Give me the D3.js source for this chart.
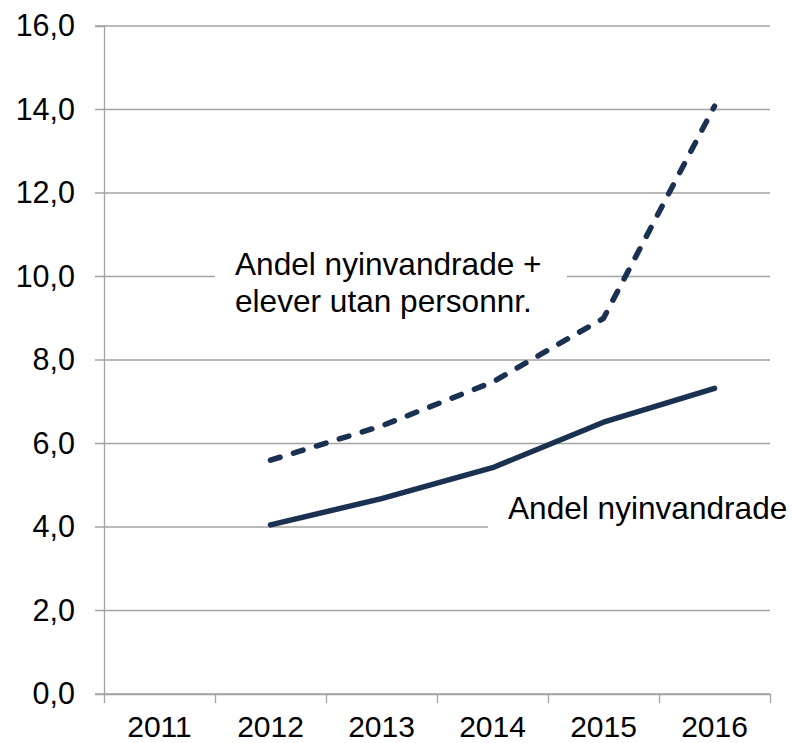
<!DOCTYPE html>
<html>
<head>
<meta charset="utf-8">
<script src="https://cdn.jsdelivr.net/npm/d3@7"></script>
<style>
  body { margin: 0; background: #fff; }
  svg { display: block; font-family: "Liberation Sans", Arial, sans-serif; }
</style>
</head>
<body>
<svg id="chart"></svg>
<script>
// chart data
const years = ["2011", "2012", "2013", "2014", "2015", "2016"];
const nyinvandrade = [null, 4.05, 4.68, 5.42, 6.51, 7.32];
const medUtanPersonnr = [null, 5.6, 6.42, 7.47, 9.0, 14.08];
const yTicks = [0, 2, 4, 6, 8, 10, 12, 14, 16];
const labelDashed = ["Andel nyinvandrade +", "elever utan personnr."];
const labelSolid = "Andel nyinvandrade";

const width = 793, height = 743;
const margin = { top: 26, right: 23, bottom: 49, left: 104 };
const navy = "#1a3152";
const gridColor = "#a3a3a3";

const svg = d3.select("#chart").attr("width", width).attr("height", height);

const x = d3.scaleBand().domain(years).range([margin.left, width - margin.right]).paddingInner(0).paddingOuter(0);
const y = d3.scaleLinear().domain([0, 16]).range([height - margin.bottom, margin.top]);
const cx = d => x(d) + x.bandwidth() / 2;

// gridlines (the outer tick is part of each gridline)
svg.append("g")
  .selectAll("line")
  .data(yTicks)
  .join("line")
  .attr("x1", margin.left - 9)
  .attr("x2", width - margin.right)
  .attr("y1", d => y(d))
  .attr("y2", d => y(d))
  .attr("stroke", gridColor)
  .attr("stroke-width", 1.3);

// y axis
const yAxis = svg.append("g")
  .attr("transform", `translate(${margin.left},0)`)
  .call(d3.axisLeft(y).tickValues(yTicks).tickSize(9).tickPadding(20)
    .tickFormat(d => d.toFixed(1).replace(".", ",")));
yAxis.select(".domain").attr("stroke", gridColor).attr("stroke-width", 1.3);
yAxis.selectAll(".tick line").remove();
yAxis.selectAll("text").attr("font-size", 30.5).attr("fill", "#000").attr("font-family", null);

// x axis: tick marks on category boundaries
const bounds = d3.range(years.length + 1);
const xEdge = d3.scaleLinear().domain([0, years.length]).range([margin.left, width - margin.right]);
const xTicks = svg.append("g")
  .attr("transform", `translate(0,${height - margin.bottom})`)
  .call(d3.axisBottom(xEdge).tickValues(bounds).tickSize(9).tickSizeOuter(0).tickFormat(""));
xTicks.select(".domain").attr("stroke", gridColor).attr("stroke-width", 1.3);
xTicks.selectAll(".tick line").attr("stroke", gridColor).attr("stroke-width", 1.3);

const xAxis = svg.append("g")
  .attr("transform", `translate(0,${height - margin.bottom})`)
  .call(d3.axisBottom(x).tickSize(0).tickPadding(22));
xAxis.select(".domain").remove();
xAxis.selectAll("text").attr("font-size", 30).attr("fill", "#000").attr("font-family", null);

// label boxes hide the gridlines behind the text
const labels = svg.append("g");
labels.append("rect")
  .attr("x", 215).attr("y", y(10) - 32).attr("width", 352).attr("height", 78)
  .attr("fill", "#fff");
const t1 = labels.append("text")
  .attr("x", 235).attr("y", 275)
  .attr("font-size", 31.6).attr("fill", "#000");
labelDashed.forEach((s, i) => {
  t1.append("tspan").attr("x", 235).attr("dy", i === 0 ? 0 : 37).text(s);
});

labels.append("rect")
  .attr("x", 488).attr("y", y(4) - 42).attr("width", width - 488).attr("height", 52)
  .attr("fill", "#fff");
labels.append("text")
  .attr("x", 508).attr("y", 519)
  .attr("font-size", 31.6).attr("fill", "#000")
  .text(labelSolid);

// lines
const line = d3.line()
  .defined(d => d[1] != null)
  .x(d => cx(d[0]))
  .y(d => y(d[1]));

svg.append("path")
  .datum(years.map((yr, i) => [yr, nyinvandrade[i]]))
  .attr("d", line)
  .attr("fill", "none")
  .attr("stroke", navy)
  .attr("stroke-width", 5.5)
  .attr("stroke-linecap", "round")
  .attr("stroke-linejoin", "round");

svg.append("path")
  .datum(years.map((yr, i) => [yr, medUtanPersonnr[i]]))
  .attr("d", line)
  .attr("fill", "none")
  .attr("stroke", navy)
  .attr("stroke-width", 5.5)
  .attr("stroke-dasharray", "10,14")
  .attr("stroke-linecap", "round")
  .attr("stroke-linejoin", "round");
</script>
</body>
</html>
